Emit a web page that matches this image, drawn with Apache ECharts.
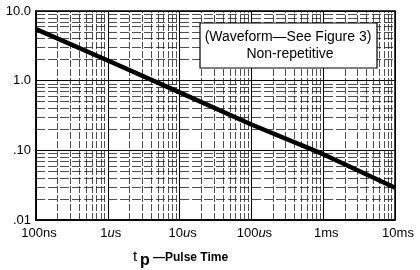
<!DOCTYPE html>
<html>
<head>
    <meta charset='utf-8' />
    <title>Pulse time chart</title>
    <style>
        body { margin: 0; padding: 0; background: #fff; }
        #chart { width: 420px; height: 270px; }
    </style>
    <script src="https://cdn.jsdelivr.net/npm/echarts@6/dist/echarts.min.js"></script>
</head>
<body>
    <div id='chart'></div>
    <script type="text/javascript">
        // pulse time (s) and value
        var pulseTimes = [1e-7, 1e-6, 1e-5, 1e-4, 1e-3, 1e-2];
        var curveValues = [5.5, 1.95, 0.68, 0.235, 0.088, 0.029];
        var xLabels = ['100ns', '1{u|u}s', '10{u|u}s', '100{u|u}s', '1ms', '10ms'];
        var yLabels = ['.01', '.10', '1.0', '10.0'];

        var font = '"Liberation Sans", Arial, sans-serif';
        var xMin = 1e-7, xMax = 1e-2, yMin = 0.01, yMax = 10;

        // log minor grid lines 2..9 in each decade
        var minorLines = [];
        for (var e = -7; e < -2; e++) {
            for (var k = 2; k <= 9; k++) {
                var xv = k * Math.pow(10, e);
                minorLines.push([
                    { coord: [xv, yMin], lineStyle: { type: [7, 2], width: 0.8, color: '#222' } },
                    { coord: [xv, yMax] }
                ]);
            }
        }
        for (var e2 = -2; e2 < 1; e2++) {
            for (var k2 = 2; k2 <= 9; k2++) {
                var yv = k2 * Math.pow(10, e2);
                minorLines.push([
                    { coord: [xMin, yv], lineStyle: { type: [9, 3], width: 0.8, color: '#222' } },
                    { coord: [xMax, yv] }
                ]);
            }
        }

        var chart = echarts.init(document.getElementById('chart'));
        chart.setOption({
            animation: false,
            backgroundColor: '#fff',
            grid: { left: 36, right: 25, top: 11, bottom: 50, show: true, borderColor: '#000', borderWidth: 1.5 },
            xAxis: {
                type: 'log', min: xMin, max: xMax, splitNumber: 5,
                axisLine: { lineStyle: { color: '#000', width: 1.5 } },
                axisTick: { show: false },
                splitLine: { show: true, lineStyle: { color: '#000', width: 1 } },
                axisLabel: {
                    color: '#000', fontSize: 13, fontFamily: font, margin: 7, padding: [0, 0, 0, 6],
                    formatter: function (v) { return xLabels[Math.round(Math.log10(v)) + 7]; },
                    rich: { u: { fontStyle: 'italic', fontSize: 13, fontFamily: font, color: '#000' } }
                }
            },
            yAxis: {
                type: 'log', min: yMin, max: yMax, splitNumber: 3,
                axisLine: { show: true, lineStyle: { color: '#000', width: 1.5 } },
                axisTick: { show: false },
                splitLine: { show: true, lineStyle: { color: '#000', width: 1 } },
                axisLabel: {
                    color: '#000', fontSize: 13, fontFamily: font, margin: 5,
                    formatter: function (v) { return yLabels[Math.round(Math.log10(v)) + 2]; }
                }
            },
            series: [{
                type: 'line',
                data: pulseTimes.map(function (t, i) { return [t, curveValues[i]]; }),
                symbol: 'none',
                lineStyle: { color: '#000', width: 4.5 },
                z: 5,
                markLine: {
                    silent: true, symbol: ['none', 'none'], label: { show: false },
                    emphasis: { disabled: true },
                    data: minorLines
                }
            }],
            graphic: [
                { type: 'rect', z: 100, shape: { x: 200, y: 23, width: 177, height: 45 },
                  style: { fill: '#fff', stroke: '#000', lineWidth: 1.2 } },
                { type: 'text', z: 101, x: 288, y: 37,
                  style: { text: '(Waveform\u2014See Figure 3)', font: '14px ' + font, fill: '#000', align: 'center', verticalAlign: 'middle' } },
                { type: 'text', z: 101, x: 290, y: 54,
                  style: { text: 'Non-repetitive', font: '14px ' + font, fill: '#000', align: 'center', verticalAlign: 'middle' } },
                { type: 'text', z: 101, x: 133, y: 249,
                  style: { text: 't', font: '15px ' + font, fill: '#000' } },
                { type: 'text', z: 101, x: 140, y: 253,
                  style: { text: 'p', font: 'bold 16px ' + font, fill: '#000' } },
                { type: 'text', z: 101, x: 153, y: 252,
                  style: { text: '\u2014Pulse Time', font: 'bold 12px ' + font, fill: '#000' } }
            ]
        });
    </script>
</body>
</html>
